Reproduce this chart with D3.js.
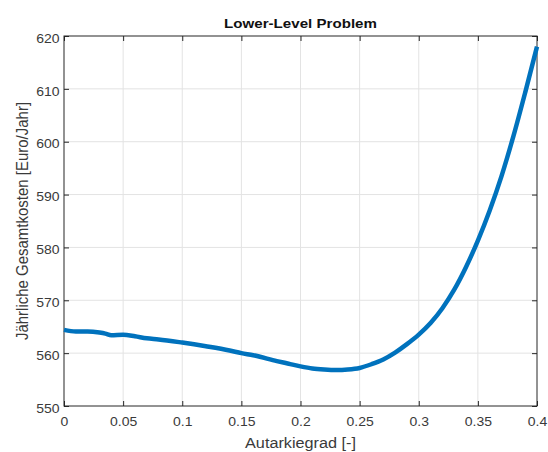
<!DOCTYPE html>
<html>
<head>
<meta charset="utf-8">
<script src="https://cdn.jsdelivr.net/npm/d3@7"></script>
<style>
  html, body { margin: 0; padding: 0; background: #fff; }
  svg { display: block; font-family: "Liberation Sans", Arial, Helvetica, sans-serif; }
</style>
</head>
<body>
<div id="chart"></div>
<script>
// Degree of self-sufficiency (Autarkiegrad) and the resulting annual total cost
const autarkiegrad = [0, 0.01, 0.02, 0.03, 0.035, 0.04, 0.05, 0.06, 0.07, 0.08, 0.10, 0.12, 0.14,
  0.15, 0.16, 0.18, 0.19, 0.20, 0.21, 0.22, 0.23, 0.24, 0.25, 0.26, 0.27, 0.28, 0.29, 0.30,
  0.31, 0.32, 0.33, 0.34, 0.35, 0.36, 0.37, 0.38, 0.39, 0.40];
const gesamtkosten = [564.4, 564.1, 564.1, 563.9, 563.7, 563.4, 563.5, 563.2, 562.8, 562.6, 562.0,
  561.3, 560.5, 560.0, 559.6, 558.5, 558.0, 557.5, 557.1, 556.9, 556.8, 556.9, 557.2, 557.9,
  558.8, 560.1, 561.7, 563.5, 565.7, 568.5, 572.0, 576.3, 581.3, 587.0, 593.5, 601.0, 609.3, 618.0];

const xTicks = [0, 0.05, 0.1, 0.15, 0.2, 0.25, 0.3, 0.35, 0.4];
const xTickLabels = ["0", "0.05", "0.1", "0.15", "0.2", "0.25", "0.3", "0.35", "0.4"];
const yTicks = [550, 560, 570, 580, 590, 600, 610, 620];

const titleText = "Lower-Level Problem";
const xLabel = "Autarkiegrad [-]";
const yLabel = "Jährliche Gesamtkosten [Euro/Jahr]";

const W = 548, H = 452;
const m = { left: 64, right: 11, top: 36, bottom: 46 };
const iw = W - m.left - m.right, ih = H - m.top - m.bottom;
const stretch = 1.12;   // glyphs are drawn slightly wide

const svg = d3.select("#chart").append("svg").attr("width", W).attr("height", H);
const g = svg.append("g").attr("transform", `translate(${m.left},${m.top})`);

const x = d3.scaleLinear().domain([0, 0.4]).range([0, iw]);
const y = d3.scaleLinear().domain([550, 620]).range([ih, 0]);

// grid
g.append("g").selectAll("line").data(xTicks.slice(1, -1)).join("line")
  .attr("x1", d => x(d)).attr("x2", d => x(d)).attr("y1", 0).attr("y2", ih)
  .attr("stroke", "#e3e3e3").attr("stroke-width", 1);
g.append("g").selectAll("line").data(yTicks.slice(1, -1)).join("line")
  .attr("y1", d => y(d)).attr("y2", d => y(d)).attr("x1", 0).attr("x2", iw)
  .attr("stroke", "#e3e3e3").attr("stroke-width", 1);

// axes with inward ticks on all four sides
const tickLen = 5;
const axColor = "#262626";
function styleAxis(sel) {
  sel.select(".domain").remove();
  sel.selectAll(".tick line").attr("stroke", axColor);
  sel.selectAll(".tick text").attr("fill", "#3a3a3a").style("font-size", "12.5px");
}
g.append("g").attr("transform", `translate(0,${ih})`)
  .call(d3.axisBottom(x).tickValues(xTicks).tickFormat((d, i) => xTickLabels[i])
    .tickSizeInner(-tickLen).tickSizeOuter(0).tickPadding(11))
  .call(styleAxis)
  .selectAll(".tick text").attr("transform", `scale(${stretch},1)`);
g.append("g")
  .call(d3.axisTop(x).tickValues(xTicks).tickFormat("").tickSizeInner(-tickLen).tickSizeOuter(0))
  .call(styleAxis);
g.append("g")
  .call(d3.axisLeft(y).tickValues(yTicks).tickSizeInner(-tickLen).tickSizeOuter(0).tickPadding(4))
  .call(styleAxis)
  .selectAll(".tick text").attr("dy", "0.5em").attr("transform", `scale(${stretch},1)`);
g.append("g").attr("transform", `translate(${iw},0)`)
  .call(d3.axisRight(y).tickValues(yTicks).tickFormat("").tickSizeInner(-tickLen).tickSizeOuter(0))
  .call(styleAxis);

// box
g.append("rect").attr("x", 0).attr("y", 0).attr("width", iw).attr("height", ih)
  .attr("fill", "none").attr("stroke", axColor).attr("stroke-width", 1);

// cost curve
const line = d3.line().x((d, i) => x(autarkiegrad[i])).y(d => y(d)).curve(d3.curveMonotoneX);
g.append("path").datum(gesamtkosten).attr("d", line)
  .attr("fill", "none").attr("stroke", "#0072BD").attr("stroke-width", 4.5)
  .attr("stroke-linejoin", "round").attr("stroke-linecap", "butt");

// labels
svg.append("text").attr("transform", `translate(${m.left + iw / 2},28) scale(${stretch},1)`)
  .attr("text-anchor", "middle")
  .style("font-size", "13.5px").style("font-weight", "bold").attr("fill", "#111").text(titleText);
svg.append("text").attr("transform", `translate(${m.left + iw / 2},448) scale(${stretch},1)`)
  .attr("text-anchor", "middle")
  .style("font-size", "14.5px").attr("fill", "#3a3a3a").text(xLabel);
svg.append("text").attr("transform", `translate(28,${m.top + ih / 2}) rotate(-90) scale(1,${stretch})`)
  .attr("text-anchor", "middle").style("font-size", "15px").attr("fill", "#3a3a3a").text(yLabel);
</script>
</body>
</html>
